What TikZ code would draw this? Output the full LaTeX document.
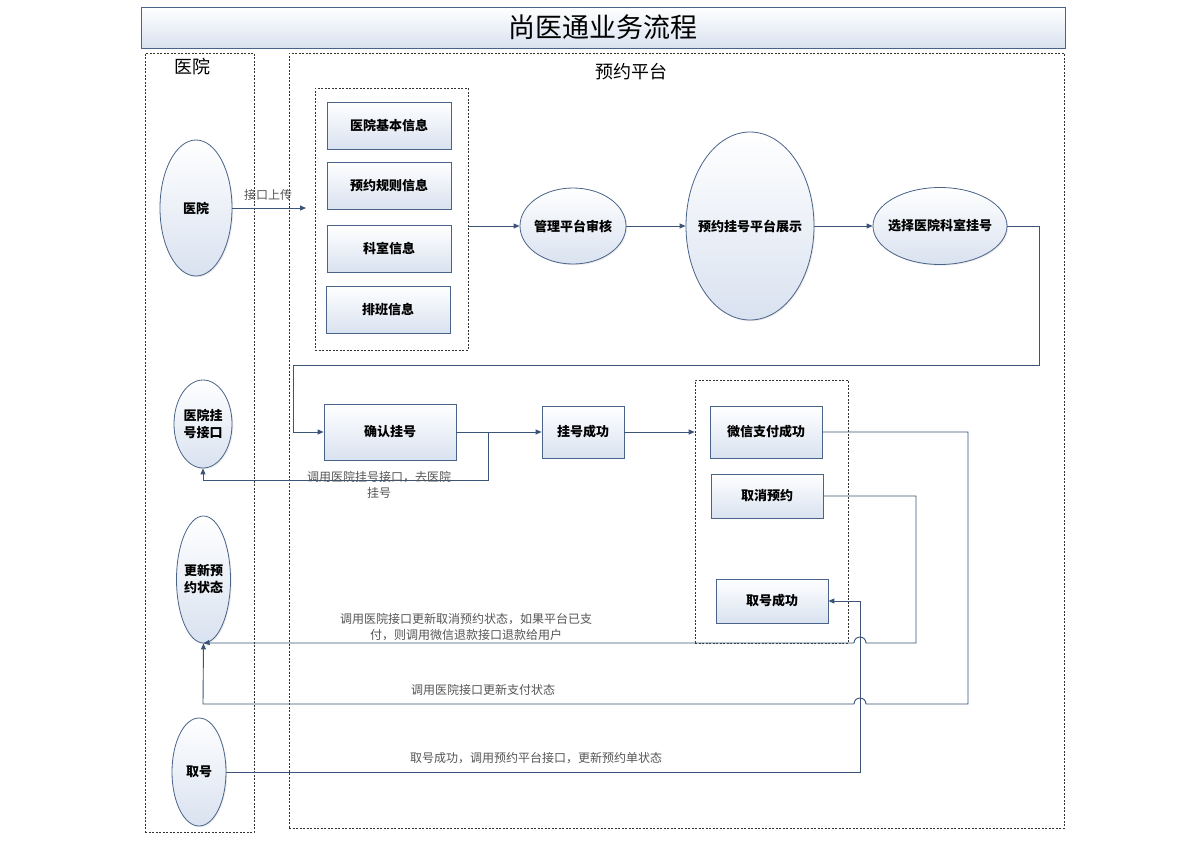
\documentclass[tikz,border=0pt]{standalone}
\usepackage{fontspec}
\setmainfont{Noto Sans CJK SC}
\usetikzlibrary{arrows.meta,shapes.geometric,shadows}
\definecolor{ln}{HTML}{3B5478}
\definecolor{nb}{HTML}{4A6389}
\definecolor{nf}{HTML}{D9E2F0}
\definecolor{lbl}{HTML}{555555}
\tikzset{
  nodebase/.style={draw=nb, line width=0.8pt, top color=white, bottom color=nf, inner sep=0pt,
    font=\fontsize{13}{17}\selectfont\bfseries, align=center,
    drop shadow={shadow xshift=1.2pt, shadow yshift=-1.2pt, opacity=0.15}},
  pbox/.style={nodebase, rectangle},
  pell/.style={nodebase, ellipse},
  elltext/.style={font=\fontsize{13}{17}\selectfont\bfseries, align=center, inner sep=0pt},
  dbox/.style={draw=black!80, line width=0.6pt, dash pattern=on 2pt off 1.5pt, rectangle, inner sep=0pt},
  conn/.style={draw=ln, line width=0.9pt},
  arr/.style={conn, -{Triangle[length=6pt,width=5pt]}},
  lbltext/.style={text=lbl, font=\fontsize{12}{16}\selectfont, align=center, inner sep=0pt},
  lanetitle/.style={font=\fontsize{18}{20}\selectfont, inner sep=0pt}
}
\begin{document}
\begin{tikzpicture}[x=1pt,y=-1pt]
\useasboundingbox (0,0) rectangle (1189,841);
\fill[white] (0,0) rectangle (1189,841);
% title
\node[draw=nb, line width=0.9pt, top color=white, bottom color=nf, minimum width=924, minimum height=41, inner sep=0pt,
  font=\fontsize{27}{30}\selectfont] (title) at (603,27.5) {尚医通业务流程};
% lanes
\node[dbox, minimum width=109, minimum height=779] (laneH) at (199.5,442.5) {};
\node[dbox, minimum width=775, minimum height=775] (laneP) at (676.5,440.5) {};
\node[lanetitle] (laneHt) at (192,67) {医院};
\node[lanetitle] (lanePt) at (631,72) {预约平台};
% group boxes
\node[dbox, minimum width=153, minimum height=262] (grp1) at (391.5,219) {};
\node[dbox, minimum width=153, minimum height=263] (grp2) at (771.5,511.5) {};
% info boxes
\node[pbox, minimum width=124, minimum height=47] (b1) at (389,125.5) {医院基本信息};
\node[pbox, minimum width=124, minimum height=47] (b2) at (389,185.5) {预约规则信息};
\node[pbox, minimum width=124, minimum height=47] (b3) at (389,248.5) {科室信息};
\node[pbox, minimum width=124, minimum height=47] (b4) at (388,309.5) {排班信息};
% ellipses top row
\node[pell, minimum width=72, minimum height=136, label={[elltext]center:医院}] (hosp) at (196,208) {};
\node[pell, minimum width=106, minimum height=76, label={[elltext]center:管理平台审核}] (mgmt) at (573,226) {};
\node[pell, minimum width=128, minimum height=188, label={[elltext]center:预约挂号平台展示}] (show) at (750,226) {};
\node[pell, minimum width=134, minimum height=77, label={[elltext]center:选择医院科室挂号}] (sel) at (940,226) {};
% second part
\node[pell, minimum width=58, minimum height=88, label={[elltext]center:医院挂\\号接口}] (iface) at (203,424) {};
\node[pbox, minimum width=132, minimum height=56] (confirm) at (390,432) {确认挂号};
\node[pbox, minimum width=82, minimum height=52] (succ) at (583,432) {挂号成功};
\node[pbox, minimum width=112, minimum height=52] (pay) at (766,432) {微信支付成功};
\node[pbox, minimum width=112, minimum height=44] (cancel) at (767,496) {取消预约};
\node[pbox, minimum width=112, minimum height=44] (take) at (772,601) {取号成功};
\node[pell, minimum width=54, minimum height=127, label={[elltext]center:更新预\\约状态}] (upd) at (203.5,579.5) {};
\node[pell, minimum width=54, minimum height=108, label={[elltext]center:取号}] (qh) at (199,772) {};
% connectors
\coordinate (upin) at (306,208);
\draw[arr] (hosp.east) -- (upin);
\node[lbltext] (l0) at (268,195) {接口上传};
\draw[arr] (grp1.east |- mgmt.west) -- (mgmt.west);
\draw[arr] (mgmt.east) -- (show.west);
\draw[arr] (show.east) -- (sel.west);
\draw[arr] (sel.east) -| (1039,365) -| (293,432) -- (confirm.west);
\draw[arr] (confirm.east) -- (succ.west);
\draw[arr] (confirm.east) -- (488,432) |- (203,480) -- (iface.south);
\node[lbltext] (l1) at (379,485) {调用医院挂号接口，去医院\\挂号};
\draw[arr] (succ.east) -- (grp2.west |- succ.east);
\draw[arr] (cancel.east) -| (916,643) -- (866,643) arc (0:-180:6) -- (206,643) -- (upd.south);
\node[lbltext] (l2) at (466,627) {调用医院接口更新取消预约状态，如果平台已支\\付，则调用微信退款接口退款给用户};
\draw[arr] (pay.east) -| (968,704) -- (866,704) arc (0:-180:6) -- (203,704) -- (upd.south);
\node[lbltext] (l3) at (483,690) {调用医院接口更新支付状态};
\draw[arr] (qh.east) -- (860,772) -- (860,601) -- (take.east);
\node[lbltext] (l4) at (536,758) {取号成功，调用预约平台接口，更新预约单状态};
\end{tikzpicture}
\end{document}
